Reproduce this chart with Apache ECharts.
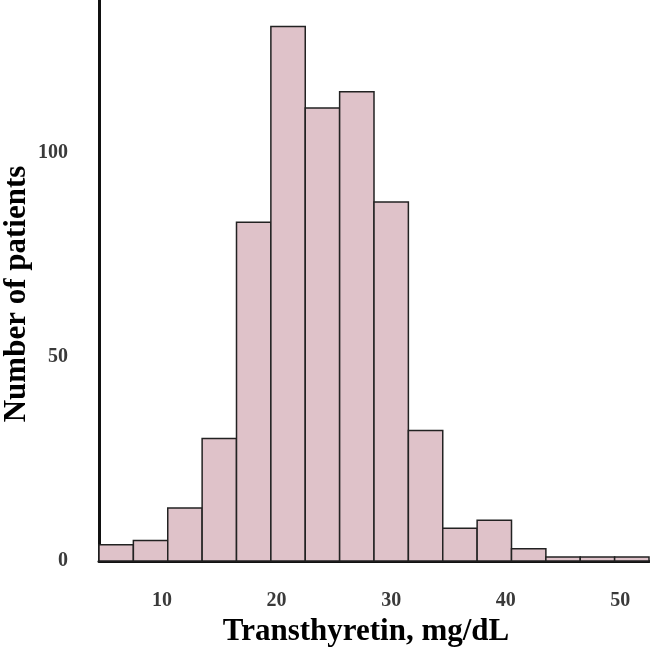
<!DOCTYPE html>
<html>
<head>
<meta charset="utf-8">
<script src="https://cdn.jsdelivr.net/npm/echarts@6/dist/echarts.min.js"></script>
<style>
  html, body { margin: 0; padding: 0; background: #ffffff; }
  #chart { width: 650px; height: 648px; }
</style>
</head>
<body>
<div id="chart"></div>
<script>
// ---- data ----
const binLow  = [4.5, 7.5, 10.5, 13.5, 16.5, 19.5, 22.5, 25.5, 28.5, 31.5, 34.5, 37.5, 40.5, 43.5, 46.5, 49.5];
const binHigh = [7.5, 10.5, 13.5, 16.5, 19.5, 22.5, 25.5, 28.5, 31.5, 34.5, 37.5, 40.5, 43.5, 46.5, 49.5, 52.5];
const counts  = [4, 5, 13, 30, 83, 131, 111, 115, 88, 32, 8, 10, 3, 1, 1, 1];
const xTicks  = [10, 20, 30, 40, 50];
const yTicks  = [0, 50, 100];
const xTitle  = 'Transthyretin, mg/dL';
const yTitle  = 'Number of patients';

const seriesData = counts.map((c, i) => [binLow[i], binHigh[i], c]);

const FONT = '"Liberation Serif", "Times New Roman", serif';
const chart = echarts.init(document.getElementById('chart'), null, { renderer: 'canvas' });

chart.setOption({
  animation: false,
  backgroundColor: '#ffffff',
  grid: { left: 99, right: 1, top: 0, bottom: 87, containLabel: false },
  xAxis: {
    type: 'value',
    min: 4.5,
    max: 52.5,
    axisLine: { show: true, onZero: false, lineStyle: { color: '#111', width: 3 } },
    axisTick: { show: false },
    splitLine: { show: false },
    axisLabel: {
      customValues: xTicks,
      margin: 30,
      fontFamily: FONT, fontWeight: 'bold', fontSize: 20, color: '#3a3a3a'
    }
  },
  yAxis: {
    type: 'value',
    min: 0,
    max: 137.5,
    axisLine: { show: true, lineStyle: { color: '#111', width: 3 } },
    axisTick: { show: false },
    splitLine: { show: false },
    axisLabel: {
      customValues: yTicks,
      margin: 31,
      fontFamily: FONT, fontWeight: 'bold', fontSize: 20, color: '#3a3a3a'
    }
  },
  graphic: [
    {
      type: 'text',
      x: 366, y: 632,
      style: {
        text: xTitle, x: 0, y: 0, align: 'center', verticalAlign: 'middle',
        font: 'bold 31px ' + FONT, fill: '#000'
      }
    },
    {
      type: 'text',
      x: 17, y: 294, rotation: Math.PI / 2,
      style: {
        text: yTitle, x: 0, y: 0, align: 'center', verticalAlign: 'middle',
        font: 'bold 31px ' + FONT, fill: '#000'
      }
    }
  ],
  series: [{
    type: 'custom',
    data: seriesData,
    encode: { x: [0, 1], y: 2 },
    renderItem: function (params, api) {
      const p0 = api.coord([api.value(0), 0]);
      const p1 = api.coord([api.value(1), api.value(2)]);
      return {
        type: 'rect',
        shape: { x: p0[0], y: p1[1], width: p1[0] - p0[0], height: p0[1] - p1[1] },
        style: { fill: '#dfc2c9', stroke: '#222', lineWidth: 1.5 }
      };
    }
  }]
});
</script>
</body>
</html>
